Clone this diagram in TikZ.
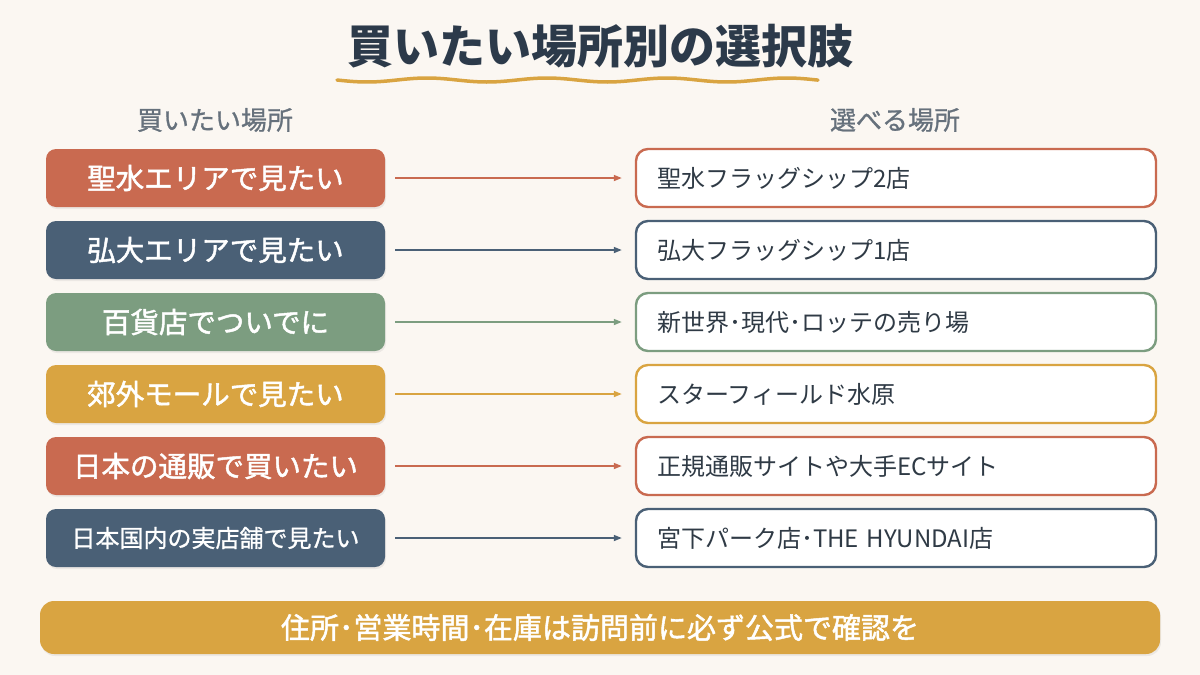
\documentclass[tikz,border=0pt]{standalone}
\usepackage{fontspec}
\setmainfont{Noto Sans CJK JP}
\newfontfamily\medfont{Noto Sans CJK JP}[FakeBold=1.6]
\newfontfamily\semfont{Noto Sans CJK JP}[FakeBold=1.0]
\usetikzlibrary{shadows,arrows.meta}
\definecolor{bg}{HTML}{FBF7F2}
\definecolor{cred}{HTML}{C96A50}
\definecolor{cnavy}{HTML}{4A6076}
\definecolor{csage}{HTML}{7C9D80}
\definecolor{cgold}{HTML}{D9A441}
\definecolor{ctitle}{HTML}{2C3A4A}
\definecolor{chead}{HTML}{66717C}
\definecolor{ctext}{HTML}{2F3A45}
\tikzset{
  leftbox/.style={rounded corners=10pt, fill=#1, minimum width=339pt, minimum height=58pt,
     text=white, font=\fontsize{28.5}{31}\medfont, inner sep=0pt,
     drop shadow={opacity=0.12, shadow xshift=1pt, shadow yshift=-2pt}},
  rightbox/.style={rounded corners=12pt, draw=#1, line width=2.4pt, fill=white, minimum width=520pt,
     minimum height=58pt, text=ctext, font=\fontsize{24}{26}\selectfont, inner sep=0pt,
     text width=478pt, align=left},
  conn/.style={draw=#1, line width=1.6pt, -{Triangle[length=8pt,width=6pt]}},
  head/.style={text=chead, font=\fontsize{26}{28}\semfont}
}
\begin{document}
\begin{tikzpicture}[x=1pt,y=-1pt]
\fill[bg] (0,0) rectangle (1200,675);
\useasboundingbox (0,0) rectangle (1200,675);
\node[text=ctitle, font=\fontsize{46}{50}\selectfont\bfseries] (title) at (600,46) {買いたい場所別の選択肢};
\draw[cgold, line width=3.5pt, line cap=round, domain=337:818, samples=120]
  plot (\x, {80 + 2*sin((\x-337)*3)});
\node[head] (hl) at (215,120) {買いたい場所};
\node[head] (hr) at (895,120) {選べる場所};
\foreach \i/\c/\l/\r in {
  1/cred/聖水エリアで見たい/聖水フラッグシップ2店,
  2/cnavy/弘大エリアで見たい/弘大フラッグシップ1店,
  3/csage/百貨店でついでに/新世界･現代･ロッテの売り場,
  4/cgold/郊外モールで見たい/スターフィールド水原,
  5/cred/日本の通販で買いたい/正規通販サイトや大手ECサイト}{
  \node[leftbox=\c] (L\i) at (215.5,{178+72*(\i-1)}) {\l};
  \node[rightbox=\c] (R\i) at (896,{178+72*(\i-1)}) {\r};
  \draw[conn=\c] ([xshift=10pt]L\i.east) -- ([xshift=-13pt]R\i.west);
}
\node[leftbox=cnavy, font=\fontsize{24}{26}\semfont] (L6) at (215.5,538) {日本国内の実店舗で見たい};
\node[rightbox=cnavy] (R6) at (896,538) {宮下パーク店･THE HYUNDAI店};
\draw[conn=cnavy] ([xshift=10pt]L6.east) -- ([xshift=-13pt]R6.west);
\node[rounded corners=14pt, fill=cgold, minimum width=1120pt, minimum height=53pt, inner sep=0pt,
  text=white, font=\fontsize{29}{31}\medfont,
  drop shadow={opacity=0.12, shadow xshift=1pt, shadow yshift=-2pt}] (note) at (600,627.5)
  {住所･営業時間･在庫は訪問前に必ず公式で確認を};
\end{tikzpicture}
\end{document}
